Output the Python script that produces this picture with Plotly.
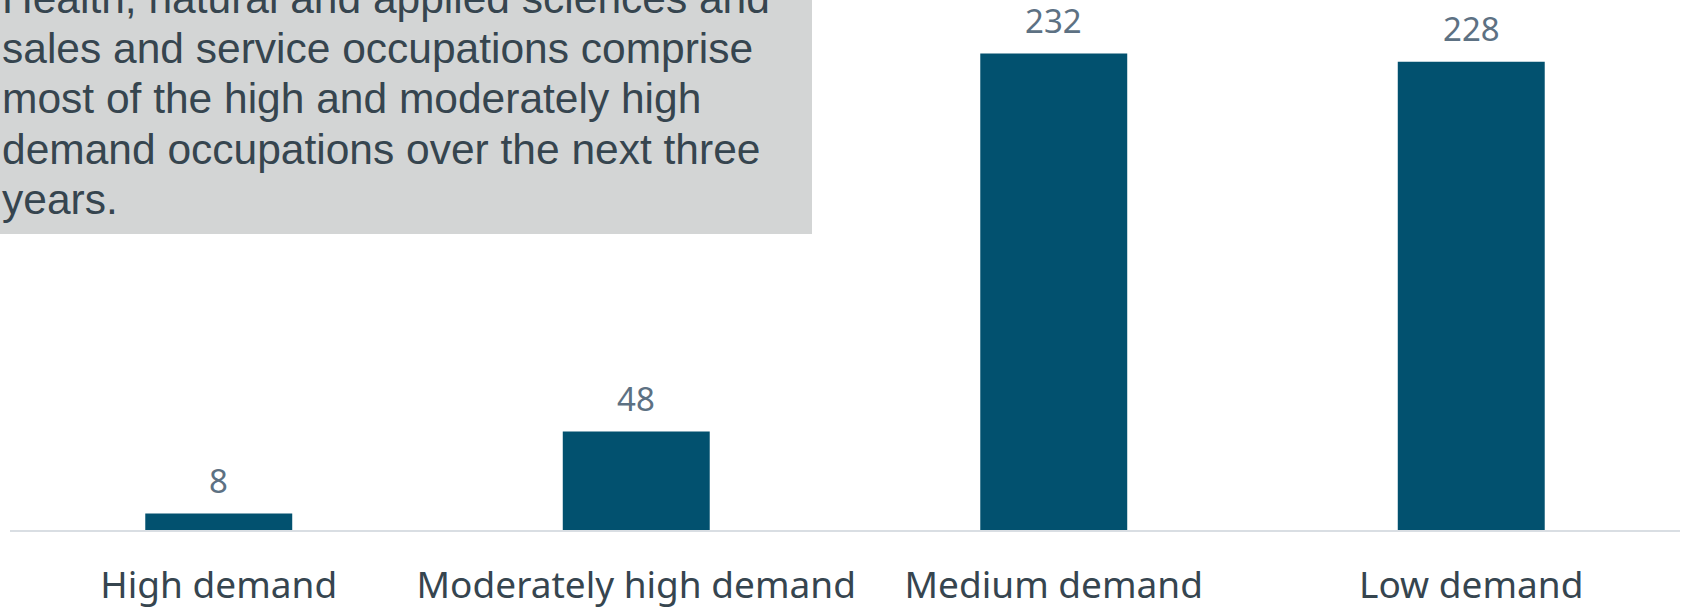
import plotly.graph_objects as go

categories = ["High demand", "Moderately high demand", "Medium demand", "Low demand"]
values = [8, 48, 232, 228]
note_lines = [
    "Health, natural and applied sciences and",
    "sales and service occupations comprise",
    "most of the high and moderately high",
    "demand occupations over the next three",
    "years.",
]

W, H = 1682, 608
ML, MR, MT, MB = 10, 2, 0, 78
plot_h = H - MT - MB
plot_w = W - ML - MR

BAR = "#02516F"
LABEL = "#5D7183"
TICK = "#36454F"

fig = go.Figure()
fig.add_trace(go.Bar(
    x=categories, y=values, marker_color=BAR,
    marker_line_width=0, hoverinfo="skip",
))

for c, v in zip(categories, values):
    fig.add_annotation(
        x=c, y=v, xref="x", yref="y", text=str(v), showarrow=False,
        yanchor="middle", yshift=33,
        font=dict(family="Noto Sans", size=33, color=LABEL),
    )

def px_to_paper_x(px):
    return (px - ML) / plot_w

def px_to_paper_y(py):
    return (H - MB - py) / plot_h

# grey note box
fig.add_shape(
    type="rect", xref="paper", yref="paper",
    x0=px_to_paper_x(-5), x1=px_to_paper_x(812),
    y0=px_to_paper_y(234), y1=px_to_paper_y(-5),
    fillcolor="#D3D5D5", line_width=0, layer="below",
)

baseline0 = 14
spacing = 50
for i, line in enumerate(note_lines):
    base = baseline0 + i * spacing
    fig.add_annotation(
        x=px_to_paper_x(0), y=px_to_paper_y(base - 15),
        xref="paper", yref="paper", text=line, showarrow=False,
        xanchor="left", yanchor="middle", align="left",
        font=dict(family="Liberation Sans", size=42.5, color=TICK),
    )

fig.update_layout(
    width=W, height=H,
    margin=dict(l=ML, r=MR, t=MT, b=MB, pad=0, autoexpand=False),
    paper_bgcolor="white", plot_bgcolor="white",
    bargap=0.648, showlegend=False,
    xaxis=dict(
        showline=True, linecolor="#D9DEE3", linewidth=2,
        ticks="", showgrid=False, zeroline=False, automargin=False,
        tickfont=dict(family="Noto Sans", size=37, color=TICK),
        ticklabelstandoff=22,
    ),
    yaxis=dict(
        range=[0, 258], visible=False, showgrid=False, zeroline=False,
        automargin=False,
    ),
)

fig.write_html("out.html")
